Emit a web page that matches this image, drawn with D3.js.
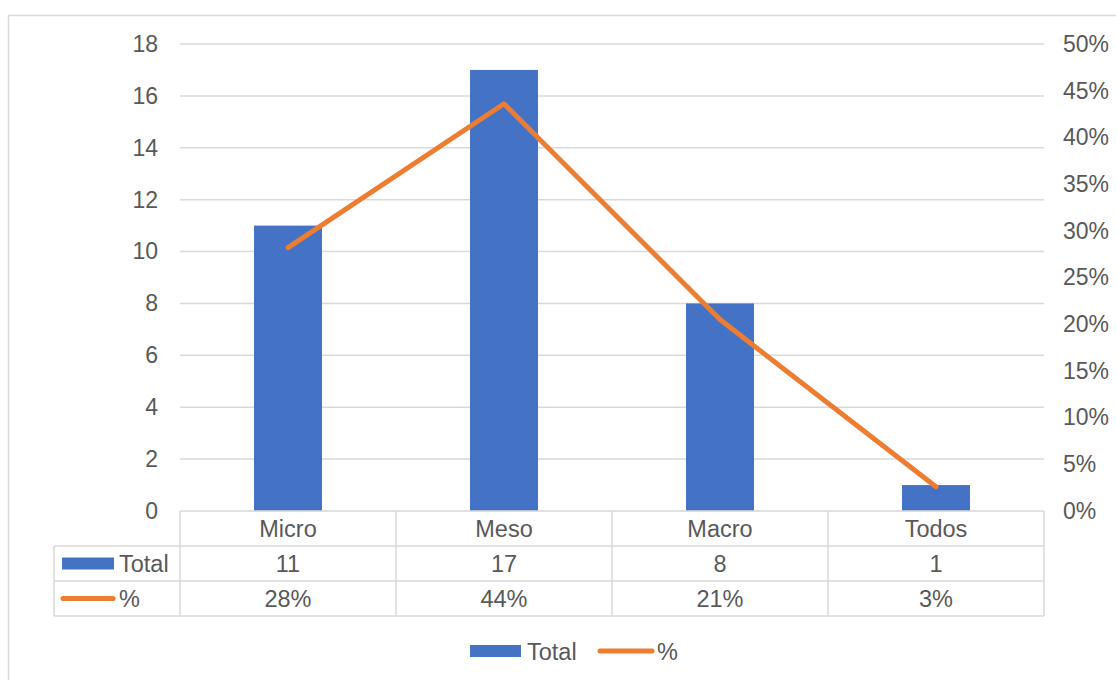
<!DOCTYPE html>
<html>
<head>
<meta charset="utf-8">
<script src="https://cdn.jsdelivr.net/npm/d3@7"></script>
<style>
  html, body { margin: 0; padding: 0; background: #fff; }
  svg { display: block; }
  text { font-family: "Liberation Sans", Arial, sans-serif; fill: #595959; }
</style>
</head>
<body>
<svg id="chart" width="1116" height="680"></svg>
<script>
// Data
const categories = ["Micro", "Meso", "Macro", "Todos"];
const totals = [11, 17, 8, 1];
const shares = [0.282, 0.436, 0.205, 0.026];
const leftTicks = [0, 2, 4, 6, 8, 10, 12, 14, 16, 18];
const rightTicks = [0, 0.05, 0.10, 0.15, 0.20, 0.25, 0.30, 0.35, 0.40, 0.45, 0.50];
const seriesNames = ["Total", "%"];

const BLUE = "#4472C4", ORANGE = "#ED7D31", GRID = "#d9d9d9", TXT = "#595959";
const FS = 23;
const FS_TABLE = 23.5;
const pct = d3.format(".0%");

const svg = d3.select("#chart");

// chart frame
svg.append("rect")
  .attr("x", 8.5).attr("y", 15.5)
  .attr("width", 1200).attr("height", 800)
  .attr("fill", "none").attr("stroke", GRID).attr("stroke-width", 1.5);

const plot = { left: 180, right: 1044, top: 44, bottom: 511 };

const x = d3.scaleBand().domain(categories).range([plot.left, plot.right]).paddingInner(0).paddingOuter(0);
const yL = d3.scaleLinear().domain([0, 18]).range([plot.bottom, plot.top]);
const yR = d3.scaleLinear().domain([0, 0.5]).range([plot.bottom, plot.top]);

// horizontal gridlines
svg.append("g")
  .selectAll("line").data(leftTicks.filter(d => d > 0)).join("line")
  .attr("x1", plot.left).attr("x2", plot.right)
  .attr("y1", d => yL(d)).attr("y2", d => yL(d))
  .attr("stroke", GRID).attr("stroke-width", 1.5);

// left axis
const axL = svg.append("g").attr("transform", `translate(${plot.left},0)`)
  .call(d3.axisLeft(yL).tickValues(leftTicks).tickSize(0).tickPadding(22).tickFormat(d3.format("d")));
axL.select(".domain").remove();
axL.selectAll("text").attr("font-size", FS).attr("fill", TXT)
  .style("font-family", '"Liberation Sans", Arial, sans-serif');

// right axis
const axR = svg.append("g").attr("transform", `translate(${plot.right},0)`)
  .call(d3.axisRight(yR).tickValues(rightTicks).tickSize(0).tickPadding(19).tickFormat(pct));
axR.select(".domain").remove();
axR.selectAll("text").attr("font-size", FS).attr("fill", TXT)
  .style("font-family", '"Liberation Sans", Arial, sans-serif');

// bars
const barW = 68;
svg.append("g").selectAll("rect").data(totals).join("rect")
  .attr("x", (d, i) => x(categories[i]) + x.bandwidth() / 2 - barW / 2)
  .attr("y", d => yL(d))
  .attr("width", barW)
  .attr("height", d => yL(0) - yL(d))
  .attr("fill", BLUE);

// percentage line
const line = d3.line()
  .x((d, i) => x(categories[i]) + x.bandwidth() / 2)
  .y(d => yR(d));
svg.append("path").datum(shares)
  .attr("d", line)
  .attr("fill", "none").attr("stroke", ORANGE)
  .attr("stroke-width", 5).attr("stroke-linecap", "round").attr("stroke-linejoin", "round");

// data table
const rowH = 35;
const tblTop = plot.bottom;
const tblLeft = 54;
const tbl = svg.append("g");

function hline(y, x1, x2) {
  tbl.append("line").attr("x1", x1).attr("x2", x2).attr("y1", y).attr("y2", y)
    .attr("stroke", GRID).attr("stroke-width", 1.5);
}
function vline(xp, y1, y2) {
  tbl.append("line").attr("x1", xp).attr("x2", xp).attr("y1", y1).attr("y2", y2)
    .attr("stroke", GRID).attr("stroke-width", 1.5);
}
hline(tblTop, plot.left, plot.right);
hline(tblTop + rowH, tblLeft, plot.right);
hline(tblTop + 2 * rowH, tblLeft, plot.right);
hline(tblTop + 3 * rowH, tblLeft, plot.right);
vline(tblLeft, tblTop + rowH, tblTop + 3 * rowH);
categories.forEach(c => vline(x(c), tblTop, tblTop + 3 * rowH));
vline(plot.right, tblTop, tblTop + 3 * rowH);

// category header row
tbl.selectAll("text.cat").data(categories).join("text")
  .attr("class", "cat")
  .attr("x", d => x(d) + x.bandwidth() / 2)
  .attr("y", tblTop + rowH / 2 + 8.5)
  .attr("text-anchor", "middle").attr("font-size", FS_TABLE)
  .text(d => d);

// value rows
const rows = [totals.map(d => String(d)), shares.map(pct)];
rows.forEach((vals, r) => {
  tbl.selectAll(`text.r${r}`).data(vals).join("text")
    .attr("class", `r${r}`)
    .attr("x", (d, i) => x(categories[i]) + x.bandwidth() / 2)
    .attr("y", tblTop + rowH * (r + 1) + rowH / 2 + 8.5)
    .attr("text-anchor", "middle").attr("font-size", FS_TABLE)
    .text(d => d);
});

// row keys
const k1y = tblTop + rowH * 1.5;
tbl.append("rect").attr("x", 62).attr("y", k1y - 6).attr("width", 52).attr("height", 12).attr("fill", BLUE);
tbl.append("text").attr("x", 119).attr("y", k1y + 8.5).attr("font-size", FS_TABLE).text(seriesNames[0]);
const k2y = tblTop + rowH * 2.5;
tbl.append("line").attr("x1", 63).attr("x2", 113).attr("y1", k2y).attr("y2", k2y)
  .attr("stroke", ORANGE).attr("stroke-width", 5).attr("stroke-linecap", "round");
tbl.append("text").attr("x", 119).attr("y", k2y + 8.5).attr("font-size", FS_TABLE).text(seriesNames[1]);

// legend
const lg = svg.append("g");
const ly = 651;
lg.append("rect").attr("x", 470).attr("y", ly - 6).attr("width", 51).attr("height", 12).attr("fill", BLUE);
lg.append("text").attr("x", 527).attr("y", ly + 8.5).attr("font-size", FS_TABLE).text(seriesNames[0]);
lg.append("line").attr("x1", 600).attr("x2", 652).attr("y1", ly).attr("y2", ly)
  .attr("stroke", ORANGE).attr("stroke-width", 5).attr("stroke-linecap", "round");
lg.append("text").attr("x", 657).attr("y", ly + 8.5).attr("font-size", FS_TABLE).text(seriesNames[1]);
</script>
</body>
</html>
